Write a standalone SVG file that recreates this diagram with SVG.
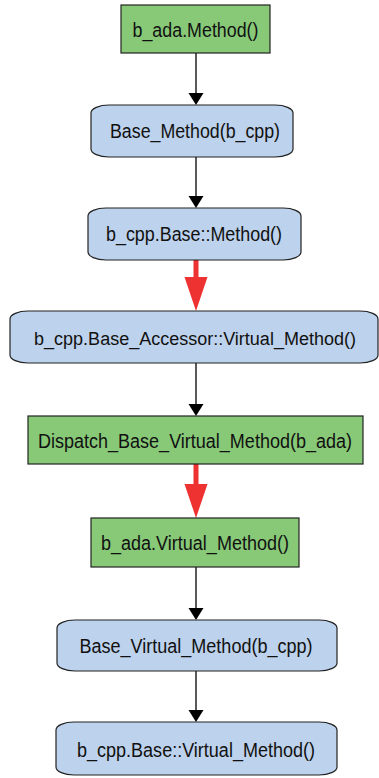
<svg xmlns="http://www.w3.org/2000/svg" width="379" height="778" viewBox="0 0 379 778">
<style>
.g{fill:#88c978;stroke:#222;stroke-width:1.2}
.b{fill:#bdd2ec;stroke:#222;stroke-width:1.2}
text{font-family:"Liberation Sans",Arial,sans-serif;font-size:19.5px;fill:#111;text-anchor:middle}
.e{stroke:#000;stroke-width:1.3;fill:none}
.r{stroke:#ee3131;stroke-width:5;fill:none}
.ah{fill:#000}
.rh{fill:#ee3131}
</style>
<rect width="379" height="778" fill="#fff"/>
<g id="connectors">
<line class="e" x1="196" y1="53" x2="196" y2="93"/><polygon class="ah" points="188.5,93 203.5,93 196,105"/>
<line class="e" x1="196" y1="157" x2="196" y2="196"/><polygon class="ah" points="188.5,196 203.5,196 196,208"/>
<line class="r" x1="196" y1="260" x2="196" y2="279"/><polygon class="rh" points="184.5,277 207.5,277 196,311"/>
<line class="e" x1="196" y1="363" x2="196" y2="404"/><polygon class="ah" points="188.5,404 203.5,404 196,416"/>
<line class="r" x1="196" y1="464" x2="196" y2="486"/><polygon class="rh" points="184.5,484 207.5,484 196,518"/>
<line class="e" x1="196" y1="567" x2="196" y2="608"/><polygon class="ah" points="188.5,608 203.5,608 196,620"/>
<line class="e" x1="196" y1="671" x2="196" y2="710"/><polygon class="ah" points="188.5,710 203.5,710 196,722"/>
</g>
<g id="n1"><rect class="g" x="121" y="5" width="149" height="48"/><text x="195.5" y="36.5" textLength="126" lengthAdjust="spacingAndGlyphs">b_ada.Method()</text></g>
<g id="n2"><rect class="b" x="91" y="105" width="202" height="52" rx="18" ry="8"/><text x="195" y="137.5" textLength="170" lengthAdjust="spacingAndGlyphs">Base_Method(b_cpp)</text></g>
<g id="n3"><rect class="b" x="88" y="208" width="213" height="52" rx="18" ry="8"/><text x="194" y="240.5" textLength="176" lengthAdjust="spacingAndGlyphs">b_cpp.Base::Method()</text></g>
<g id="n4"><rect class="b" x="10" y="311" width="368" height="52" rx="18" ry="8"/><text x="195" y="344.5" style="font-size:18px">b_cpp.Base_Accessor::Virtual_Method()</text></g>
<g id="n5"><rect class="g" x="28" y="416" width="335" height="48"/><text x="195" y="448" textLength="314" lengthAdjust="spacingAndGlyphs">Dispatch_Base_Virtual_Method(b_ada)</text></g>
<g id="n6"><rect class="g" x="91" y="518" width="208" height="49"/><text x="195" y="550" textLength="188" lengthAdjust="spacingAndGlyphs">b_ada.Virtual_Method()</text></g>
<g id="n7"><rect class="b" x="57" y="620" width="280" height="51" rx="18" ry="8"/><text x="196" y="653" textLength="233" lengthAdjust="spacingAndGlyphs">Base_Virtual_Method(b_cpp)</text></g>
<g id="n8"><rect class="b" x="56" y="722" width="281" height="53" rx="18" ry="8"/><text x="196" y="757" textLength="238" lengthAdjust="spacingAndGlyphs">b_cpp.Base::Virtual_Method()</text></g>
</svg>
